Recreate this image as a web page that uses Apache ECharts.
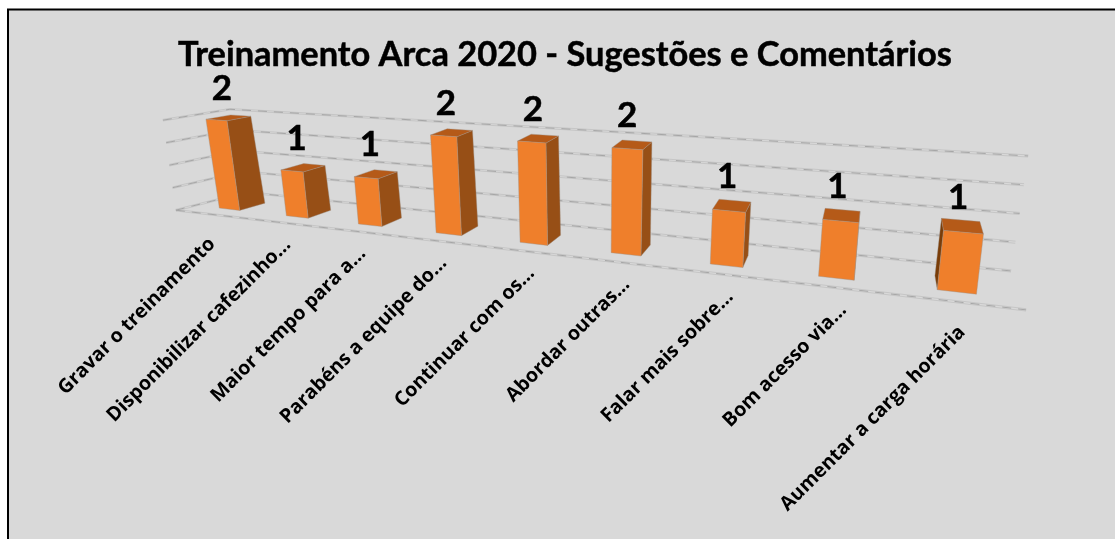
<!DOCTYPE html>
<html>
<head>
<meta charset="utf-8">
<style>html,body{margin:0;padding:0;background:#fff}#c{width:1115px;height:539px}</style>
<script src="https://cdn.jsdelivr.net/npm/echarts@6/dist/echarts.min.js"></script>
</head>
<body>
<div id="c"></div>
<script>
const categories = ["Gravar o treinamento","Disponibilizar cafezinho…","Maior tempo para a…","Parabéns a equipe do…","Continuar com os…","Abordar outras…","Falar mais sobre…","Bom acesso via…","Aumentar a carga horária"];
const values = [2,1,1,2,2,2,1,1,1];
const gridValues = [0,0.5,1,1.5,2];
const chartTitle = "Treinamento Arca 2020 - Sugestões e Comentários";

// perspective box: screen position of its eight corners [s, v, d]
const box = {
  fb:[[176,211],[1026,311]], ft:[[163,121],[1041,186]],
  bb:[[247,193],[1011,272]], bt:[[230,110],[1028,157]]
};
const K = 1.45, D0 = 0.30, D1 = 0.68, BAR = 0.31;
const lerp=(a,b,t)=>[a[0]+(b[0]-a[0])*t,a[1]+(b[1]-a[1])*t];
const warp=s=>s/(s+K*(1-s));
function project(s,v,d){
  const t=warp(s);
  const front=lerp(lerp(box.fb[0],box.fb[1],t),lerp(box.ft[0],box.ft[1],t),v);
  const back=lerp(lerp(box.bb[0],box.bb[1],t),lerp(box.bt[0],box.bt[1],t),v);
  return lerp(front,back,d);
}
function norm(params,pt){
  const c=params.coordSys;
  return [(pt[0]-c.x)/c.width,(c.y+c.height-pt[1])/c.height];
}
const COL={front:'#EF7F2B',right:'#974F16',top:'#B55A18',left:'#7A3D08'};
function face(points,fill){return {type:'polygon',shape:{points},style:{fill,stroke:'#9c8f86',lineWidth:0.4}};}

function renderBar(params,api){
  const [s,v]=norm(params,api.coord([api.value(0),api.value(1)]));
  const h=api.size([1,0])[0]/params.coordSys.width*BAR/2;
  const P=project;
  const f=[P(s-h,0,D0),P(s+h,0,D0),P(s+h,v,D0),P(s-h,v,D0)];
  const b=[P(s-h,0,D1),P(s+h,0,D1),P(s+h,v,D1),P(s-h,v,D1)];
  const children=[];
  if(b[0][0]<f[0][0]) children.push(face([f[0],f[3],b[3],b[0]],COL.left));
  if(b[1][0]>f[1][0]) children.push(face([f[1],f[2],b[2],b[1]],COL.right));
  children.push(face([f[3],f[2],b[2],b[3]],COL.top));
  children.push(face(f,COL.front));
  const top=P(s,v,0.45);
  children.push({type:'text',x:top[0]-4,y:top[1]-30,style:{text:String(api.value(1)),font:'bold 35px Lato',fill:'#000',stroke:'#000',lineWidth:0.5,align:'center',verticalAlign:'middle'}});
  return {type:'group',children};
}
function renderGrid(params,api){
  const [,v]=norm(params,api.coord([0,api.value(0)]));
  const line=(pts,stroke,dash)=>({type:'polyline',shape:{points:pts},style:{fill:'none',stroke,lineWidth:1,lineDash:dash}});
  const children=[];
  [[0,'#C6C6C6',null],[0.018,'#C6C6C6',null],[0.009,'#A6A6A6',[9,7]]].forEach(([o,c,dash])=>{
    children.push(line([project(0,v+o,0),project(0,v+o,1),project(1,v+o,1)],c,dash));
    if(v===0) children.push(line([project(0,o,0),project(1,o,0)],c,dash));
  });
  return {type:'group',children};
}
function renderLabel(params,api){
  const [s]=norm(params,api.coord([api.value(0),0]));
  const p=project(s,0,0);
  const text=categories[api.value(0)];
  const cut=text.endsWith('…');
  return {type:'text',x:p[0]+(cut?8.5:3),y:p[1]+(cut?18.5:26),rotation:Math.PI/4,style:{x:0,y:0,text,font:'bold 19.6px "Open Sans"',fill:'#000',align:'right',verticalAlign:'middle'}};
}
const chart=echarts.init(document.getElementById('c'),null,{renderer:'canvas'});
chart.setOption({
  animation:false,
  backgroundColor:'#fff',
  title:{text:chartTitle,left:560,top:33,textAlign:'center',textStyle:{fontFamily:'Lato',fontWeight:'bold',fontSize:34.4,color:'#000',textBorderColor:'#000',textBorderWidth:0.5}},
  graphic:[{type:'rect',z:-10,shape:{x:8,y:9.5,width:1125,height:545},style:{fill:'#D9D9D9',stroke:'#000',lineWidth:2}}],
  grid:{left:100,right:100,top:100,bottom:100},
  xAxis:{type:'category',data:categories,show:false},
  yAxis:{type:'value',min:0,max:2,show:false},
  series:[
    {type:'custom',coordinateSystem:'cartesian2d',z:1,silent:true,data:gridValues.map(v=>[v]),encode:{x:-1,y:0},renderItem:renderGrid},
    {type:'custom',coordinateSystem:'cartesian2d',z:2,silent:true,data:values.map((v,i)=>[i,v]),encode:{x:0,y:1},renderItem:renderBar},
    {type:'custom',coordinateSystem:'cartesian2d',z:3,silent:true,data:values.map((v,i)=>[i,0]),encode:{x:0,y:1},renderItem:renderLabel}
  ]
});
</script>
</body>
</html>
